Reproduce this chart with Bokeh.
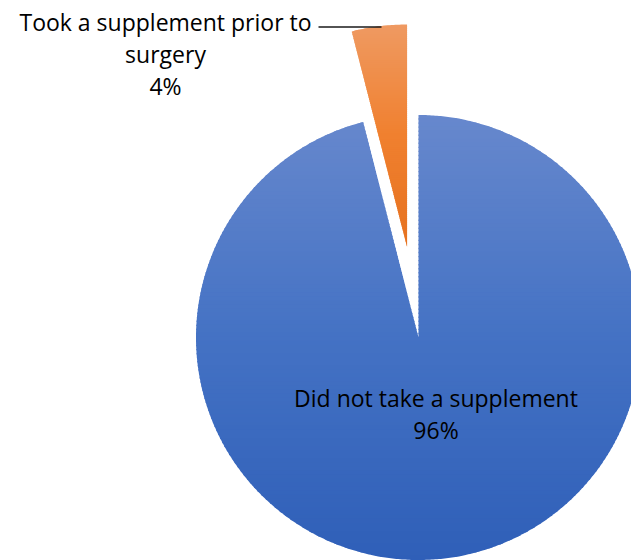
import textwrap
import numpy as np
from bokeh.plotting import figure
from bokeh.models import Range1d, ColumnDataSource
from bokeh.embed import file_html
from bokeh.resources import INLINE
from bokeh.core.properties import value

# --- data -------------------------------------------------------------
categories = ["Did not take a supplement", "Took a supplement prior to surgery"]
percents = [96, 4]
explode = [0.0, 0.41]          # fraction of the radius each slice is pulled out
gradients = [                  # vertical fill: top, middle, bottom
    ["#6788cd", "#4472c4", "#2f5fb8"],
    ["#ef9a62", "#f0802f", "#e67220"],
]

# --- layout -----------------------------------------------------------
W, H = 631, 560
PX = 222.5                     # pixels per unit radius
CX, CY = 418, 337              # pie centre in pixels
FONT = "Open Sans"
FONT_SIZE = "23px"
LINE_STEP = 32 / PX            # label line spacing
label_pos = [(0.0787, -0.2697), (-1.137, 1.417)]   # centre of first label line
leader = [(-0.4494, 1.3955), (-0.1663, 1.3955)]

p = figure(width=W, height=H,
           x_range=Range1d((0 - CX) / PX, (W - CX) / PX),
           y_range=Range1d((CY - H) / PX, CY / PX),
           output_backend="svg", toolbar_location=None, min_border=0)
p.axis.visible = False
p.grid.visible = False
p.outline_line_color = None
p.background_fill_color = "white"
p.border_fill_color = "white"


def hex_rgb(h):
    h = h.lstrip("#")
    return np.array([int(h[i:i + 2], 16) for i in (0, 2, 4)], dtype=float)


def gradient_color(stops, t):
    t = min(max(t, 0.0), 1.0)
    if t <= 0.5:
        a, b, u = stops[0], stops[1], t / 0.5
    else:
        a, b, u = stops[1], stops[2], (t - 0.5) / 0.5
    c = hex_rgb(a) * (1 - u) + hex_rgb(b) * u
    return "#%02x%02x%02x" % tuple(int(round(v)) for v in c)


def clip(poly, y0, keep_above):
    out = []
    n = len(poly)
    for i in range(n):
        cur, prev = poly[i], poly[i - 1]
        cin = cur[1] >= y0 if keep_above else cur[1] <= y0
        pin = prev[1] >= y0 if keep_above else prev[1] <= y0
        if cin != pin:
            t = (y0 - prev[1]) / (cur[1] - prev[1])
            out.append((prev[0] + t * (cur[0] - prev[0]), y0))
        if cin:
            out.append(cur)
    return out


# slices run clockwise from 12 o'clock
total = sum(percents)
xs, ys, fills = [], [], []
cum = 0.0
for cat, pct, ex, stops in zip(categories, percents, explode, gradients):
    a0 = np.pi / 2 - 2 * np.pi * cum / total
    a1 = np.pi / 2 - 2 * np.pi * (cum + pct) / total
    mid = (a0 + a1) / 2
    ox, oy = ex * np.cos(mid), ex * np.sin(mid)
    n_arc = max(int(abs(a1 - a0) * 120), 12)
    ang = np.linspace(a0, a1, n_arc)
    poly = [(ox, oy)] + [(ox + np.cos(a), oy + np.sin(a)) for a in ang]
    ytop = max(q[1] for q in poly)
    ybot = min(q[1] for q in poly)
    nb = 110
    edges = np.linspace(ytop, ybot, nb + 1)
    eps = 0.7 / PX
    for i in range(nb):
        hi, lo = edges[i] + eps, edges[i + 1] - eps
        band = clip(clip(poly, lo, True), hi, False)
        if len(band) < 3:
            continue
        xs.append([q[0] for q in band])
        ys.append([q[1] for q in band])
        fills.append(gradient_color(stops, (ytop - (edges[i] + edges[i + 1]) / 2) / (ytop - ybot)))
    cum += pct

p.patches(xs="xs", ys="ys", fill_color="fill", line_color=None,
          source=ColumnDataSource(dict(xs=xs, ys=ys, fill=fills)))

# leader line for the small slice
p.line([leader[0][0], leader[1][0]], [leader[0][1], leader[1][1]],
       line_color="#1a1a1a", line_width=1.3)

# data labels: category name wrapped, then the percentage
tx, ty, tt = [], [], []
for cat, pct, (lx, ly) in zip(categories, percents, label_pos):
    lines = textwrap.wrap(cat, 26) + [f"{pct}%"]
    for k, line in enumerate(lines):
        tx.append(lx)
        ty.append(ly - k * LINE_STEP)
        tt.append(line)
p.text(x="x", y="y", text="t", source=ColumnDataSource(dict(x=tx, y=ty, t=tt)),
       text_font=value(FONT), text_font_size=FONT_SIZE, text_align="center",
       text_baseline="middle", text_color="black")

open("out.html", "w").write(file_html(p, INLINE))
